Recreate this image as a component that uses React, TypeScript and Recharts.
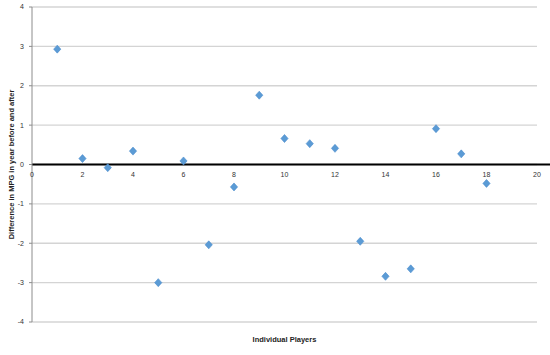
import React from 'react';
import { ScatterChart, Scatter, XAxis, YAxis, CartesianGrid, ReferenceLine, Label } from 'recharts';

const players = [1, 2, 3, 4, 5, 6, 7, 8, 9, 10, 11, 12, 13, 14, 15, 16, 17, 18];
const mpgDiff = [2.93, 0.15, -0.08, 0.34, -3.0, 0.09, -2.04, -0.57, 1.76, 0.66, 0.53, 0.41, -1.95, -2.84, -2.65, 0.91, 0.27, -0.48];
const xTicks = [0, 2, 4, 6, 8, 10, 12, 14, 16, 18, 20];
const yTicks = [-4, -3, -2, -1, 0, 1, 2, 3, 4];

const W = 550;
const H = 355;
const TOP = 7;
const X_AXIS_H = 33;
const PLOT_H = H - TOP - X_AXIS_H;
const ZERO_Y = TOP + PLOT_H / 2;
const FONT = '"Liberation Sans", Arial, sans-serif';

const points = players.map((p, i) => ({ x: p, y: mpgDiff[i] }));

const Diamond = (props: any) => {
  const { cx, cy } = props;
  if (cx == null || cy == null) return null;
  return (
    <polygon
      points={`${cx},${cy - 4} ${cx + 3.6},${cy} ${cx},${cy + 4} ${cx - 3.6},${cy}`}
      fill="#5b9bd5"
      stroke="#4a8ccc"
      strokeWidth={0.6}
    />
  );
};

// x tick labels sit just under the zero line, not at the bottom of the plot
const XTick = (props: any) => {
  const { x, payload } = props;
  return (
    <text x={x} y={ZERO_Y + 12} textAnchor="middle" fontSize={7} fontFamily={FONT} fill="#333">
      {payload.value}
    </text>
  );
};

const ZeroLine = (props: any) => (
  <line x1={props.x1} y1={props.y1} x2={W} y2={props.y2} stroke="#000" strokeWidth={2} />
);

export default function App() {
  return (
    <div style={{ position: 'absolute', left: 0, top: 0, background: '#fff' }}>
      <ScatterChart width={W} height={H} margin={{ top: TOP, right: 13, bottom: 0, left: 0 }}>
        <CartesianGrid vertical={false} stroke="#d4d4d4" strokeWidth={1.3} />
        <XAxis
          type="number"
          dataKey="x"
          domain={[0, 20]}
          ticks={xTicks}
          height={X_AXIS_H}
          axisLine={false}
          tickLine={false}
          tick={<XTick />}
          interval={0}
        >
          <Label
            content={({ viewBox }: any) => (
              <text
                x={viewBox.x + viewBox.width / 2}
                y={viewBox.y + 20}
                textAnchor="middle"
                fontSize={7.5}
                fontWeight="bold"
                fontFamily={FONT}
                fill="#222"
              >
                Individual Players
              </text>
            )}
          />
        </XAxis>
        <YAxis
          type="number"
          dataKey="y"
          domain={[-4, 4]}
          ticks={yTicks}
          width={32}
          axisLine={{ stroke: '#8c8c8c' }}
          tickLine={{ stroke: '#8c8c8c' }}
          tickSize={3}
          tickMargin={5}
          tick={{ fontSize: 7, fontFamily: FONT, fill: '#333' }}
          interval={0}
        >
          <Label
            content={({ viewBox }: any) => {
              const cx = viewBox.x + 11;
              const cy = viewBox.y + viewBox.height / 2;
              return (
                <text
                  x={cx}
                  y={cy}
                  transform={`rotate(-90 ${cx} ${cy})`}
                  textAnchor="middle"
                  dominantBaseline="central"
                  fontSize={7.5}
                  fontWeight="bold"
                  fontFamily={FONT}
                  fill="#222"
                >
                  Difference in MPG in year before and after
                </text>
              );
            }}
          />
        </YAxis>
        <ReferenceLine y={0} shape={<ZeroLine />} />
        <Scatter data={points} shape={<Diamond />} isAnimationActive={false} />
      </ScatterChart>
    </div>
  );
}
